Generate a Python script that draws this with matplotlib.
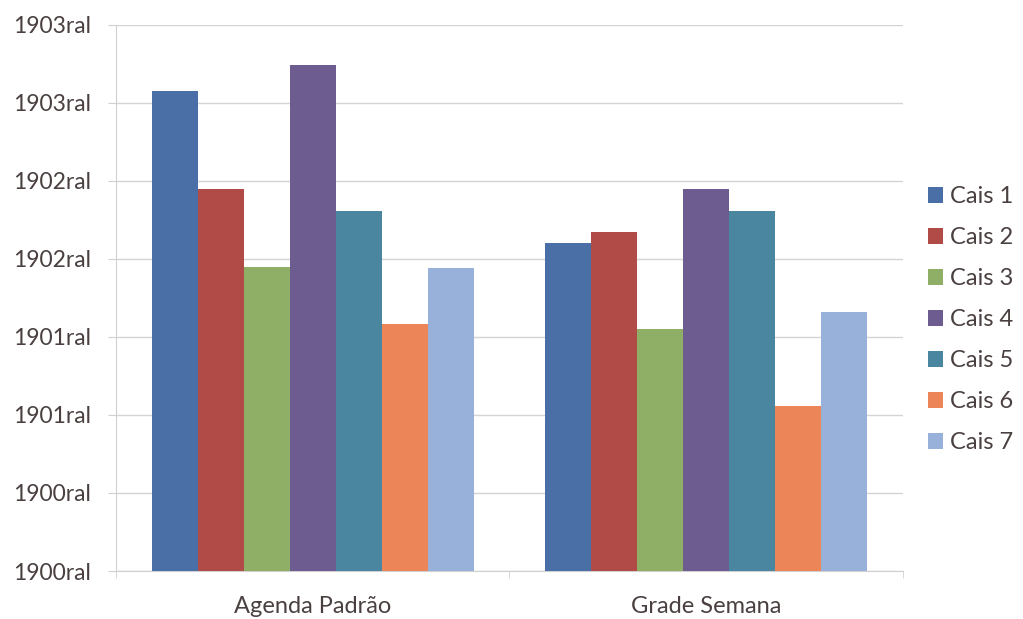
import matplotlib.pyplot as plt
import numpy as np

plt.rcParams['font.family'] = ['Lato', 'DejaVu Sans']

# data (in gridline units, 0 = bottom line)
categories = ["Agenda Padrão", "Grade Semana"]
series_names = ["Cais 1", "Cais 2", "Cais 3", "Cais 4", "Cais 5", "Cais 6", "Cais 7"]
cais_1 = [6.15, 4.20]
cais_2 = [4.90, 4.35]
cais_3 = [3.90, 3.10]
cais_4 = [6.49, 4.89]
cais_5 = [4.61, 4.61]
cais_6 = [3.17, 2.12]
cais_7 = [3.88, 3.32]
ytick_labels = ["1900ral", "1900ral", "1901ral", "1901ral",
                "1902ral", "1902ral", "1903ral", "1903ral"]

series = [cais_1, cais_2, cais_3, cais_4, cais_5, cais_6, cais_7]
colors = ["#4a6ea6", "#b04b48", "#8fae66", "#6d5c90", "#4b86a1", "#ec8658", "#97b1da"]
text_col = "#4a4040"

fig = plt.figure(figsize=(10.23, 6.19), dpi=100)
ax = fig.add_axes([0.1135, 0.0775, 0.769, 0.8825])

x = np.arange(len(categories))
width = 0.117
for i, (vals, name) in enumerate(zip(series, series_names)):
    offset = (i - 3) * width
    ax.bar(x + offset, vals, width, color=colors[i], label=name, zorder=3)

ax.set_xlim(-0.5, 1.5)
ax.set_ylim(0, 7)
ax.set_yticks(range(8))
ax.set_yticklabels(ytick_labels)
ax.set_xticks(x)
ax.set_xticklabels(categories)

ax.yaxis.grid(True, color="#d4d4d4", linewidth=1, zorder=0)
for s in ["top", "right"]:
    ax.spines[s].set_visible(False)
ax.spines["left"].set_color("#d0d0d0")
ax.spines["bottom"].set_color("#d0d0d0")
ax.tick_params(axis="y", length=6, color="#d0d0d0", labelsize=16.5, labelcolor=text_col, pad=12)
ax.tick_params(axis="x", length=0, labelsize=17, labelcolor=text_col, pad=18)
# small ticks at category boundaries on the bottom axis
ax.set_xticks([-0.5, 0.5, 1.5], minor=True)
ax.tick_params(axis="x", which="minor", length=5, color="#d0d0d0")

ax.legend(loc="center left", bbox_to_anchor=(1.032, 0.46), frameon=False,
          fontsize=17, labelcolor=text_col, handlelength=0.64, handleheight=0.64,
          handletextpad=0.3, labelspacing=0.85, borderpad=0, borderaxespad=0)

fig.savefig("out.png", dpi=100)
